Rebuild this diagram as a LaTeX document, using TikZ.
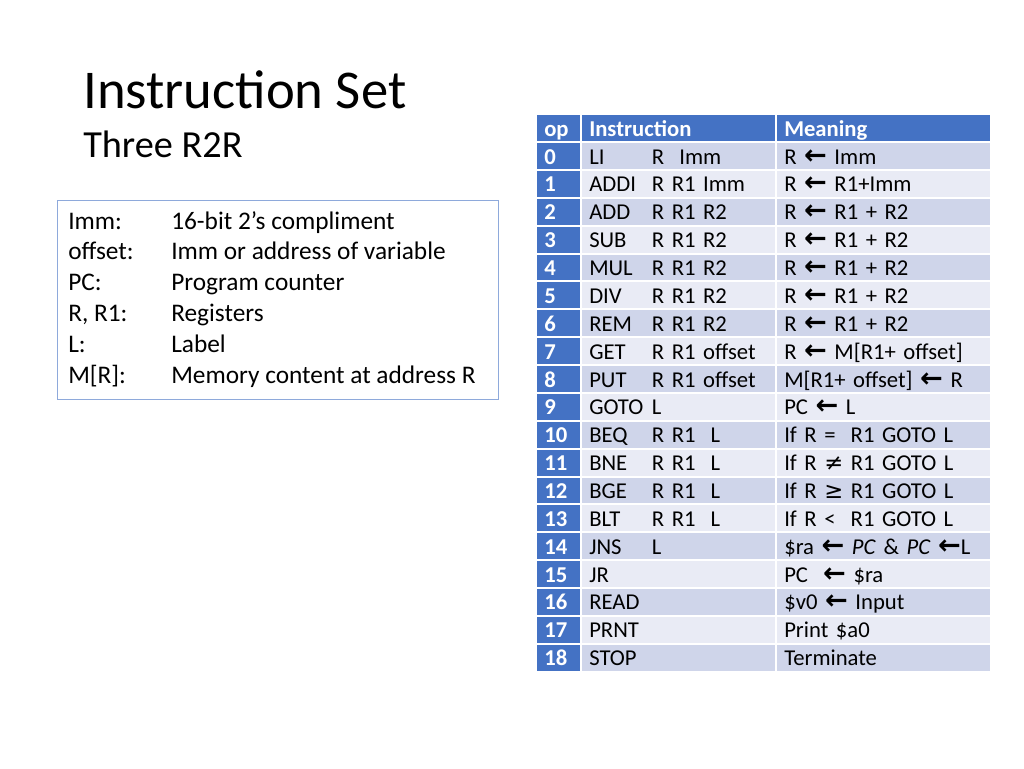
\documentclass[tikz,border=0pt]{standalone}
\usepackage{fontspec}
\setmainfont{Carlito}
\newfontfamily\arrowfont{DejaVu Sans}
\usepackage{tikz}
\usetikzlibrary{matrix, positioning}
\definecolor{HdrBlue}{HTML}{4472C4}
\definecolor{RowDark}{HTML}{CFD5EA}
\definecolor{RowLight}{HTML}{E9EBF5}
\definecolor{BoxLine}{HTML}{8EA9DB}
\newcommand{\larr}{\scalebox{1.2}{\arrowfont\bfseries ←}}
\newcommand{\instr}[2]{\makebox[47pt][l]{#1}#2}

\begin{document}
\begin{tikzpicture}[
  x=0.75pt, y=-0.75pt,
  cell/.style={rectangle, inner xsep=5.25pt, inner ysep=1.7pt, outer sep=0pt, text height=14pt, text depth=2pt, align=left, font=\fontsize{17}{19}\selectfont},
  opcell/.style={fill=HdrBlue, text=white, font=\fontsize{17}{19}\selectfont\bfseries},
  deftext/.style={anchor=base west, inner sep=0pt, font=\fontsize{19}{23}\selectfont}
]
\useasboundingbox (0,0) rectangle (1024,768);

\node [anchor=base west, inner sep=0pt, font=\fontsize{41}{49}\selectfont] (title) at (83,108) {Instruction Set};
\node [anchor=base west, inner sep=0pt, font=\fontsize{28.7}{34}\selectfont] (subtitle) at (83,157) {Three R2R};

% definitions box
\node [draw=BoxLine, line width=0.8pt, anchor=north west, minimum width=330.75pt, minimum height=149.25pt] (defbox) at (57,200) {};
\foreach \k/\term/\desc in {0/Imm:/16-bit 2’s compliment, 1/offset:/Imm or address of variable, 2/PC:/Program counter, 3/{R, R1:}/Registers, 4/L:/Label, 5/M[R]:/Memory content at address R}
{
  \node [deftext] (term-\k) at (68,229+30.8*\k) {\term};
  \node [deftext] (desc-\k) at (171,229+30.8*\k) {\desc};
}

\matrix [
matrix of nodes,
nodes={cell},
anchor=north west,
inner sep=0pt,
row sep=1.5pt,
column sep=1.5pt,
column 1/.style = {{nodes={text width=21.75pt}}},
column 2/.style = {{nodes={text width=134.25pt}}},
column 3/.style = {{nodes={text width=149.25pt}}},
every even row/.style = {{nodes={fill=RowDark}}},
every odd row/.style = {{nodes={fill=RowLight}}}
] (isa) at (537,115)
{
  |[opcell]| op & |[opcell]| Instruction & |[opcell]| Meaning\\
  |[opcell]| 0 & \instr{LI}{R\ \ Imm} & R \larr{} Imm\\
  |[opcell]| 1 & \instr{ADDI}{R R1 Imm} & R \larr{} R1+Imm\\
  |[opcell]| 2 & \instr{ADD}{R R1 R2} & R \larr{} R1 + R2\\
  |[opcell]| 3 & \instr{SUB}{R R1 R2} & R \larr{} R1 + R2\\
  |[opcell]| 4 & \instr{MUL}{R R1 R2} & R \larr{} R1 + R2\\
  |[opcell]| 5 & \instr{DIV}{R R1 R2} & R \larr{} R1 + R2\\
  |[opcell]| 6 & \instr{REM}{R R1 R2} & R \larr{} R1 + R2\\
  |[opcell]| 7 & \instr{GET}{R R1 offset} & R \larr{} M[R1+ offset]\\
  |[opcell]| 8 & \instr{PUT}{R R1 offset} & M[R1+ offset] \larr{} R\\
  |[opcell]| 9 & \instr{GOTO}{L} & PC \larr{} L\\
  |[opcell]| 10 & \instr{BEQ}{R R1\ \ L} & If R =\ \ R1 GOTO L\\
  |[opcell]| 11 & \instr{BNE}{R R1\ \ L} & If R {\arrowfont ≠} R1 GOTO L\\
  |[opcell]| 12 & \instr{BGE}{R R1\ \ L} & If R {\arrowfont ≥} R1 GOTO L\\
  |[opcell]| 13 & \instr{BLT}{R R1\ \ L} & If R <\ \ R1 GOTO L\\
  |[opcell]| 14 & \instr{JNS}{L} & \$ra \larr{} \textit{PC} \& \textit{PC} \larr{}L\\
  |[opcell]| 15 & JR & PC\ \ \larr{} \$ra\\
  |[opcell]| 16 & READ & \$v0 \larr{} Input\\
  |[opcell]| 17 & PRNT & Print \$a0\\
  |[opcell]| 18 & STOP & Terminate\\
};
\end{tikzpicture}
\end{document}
